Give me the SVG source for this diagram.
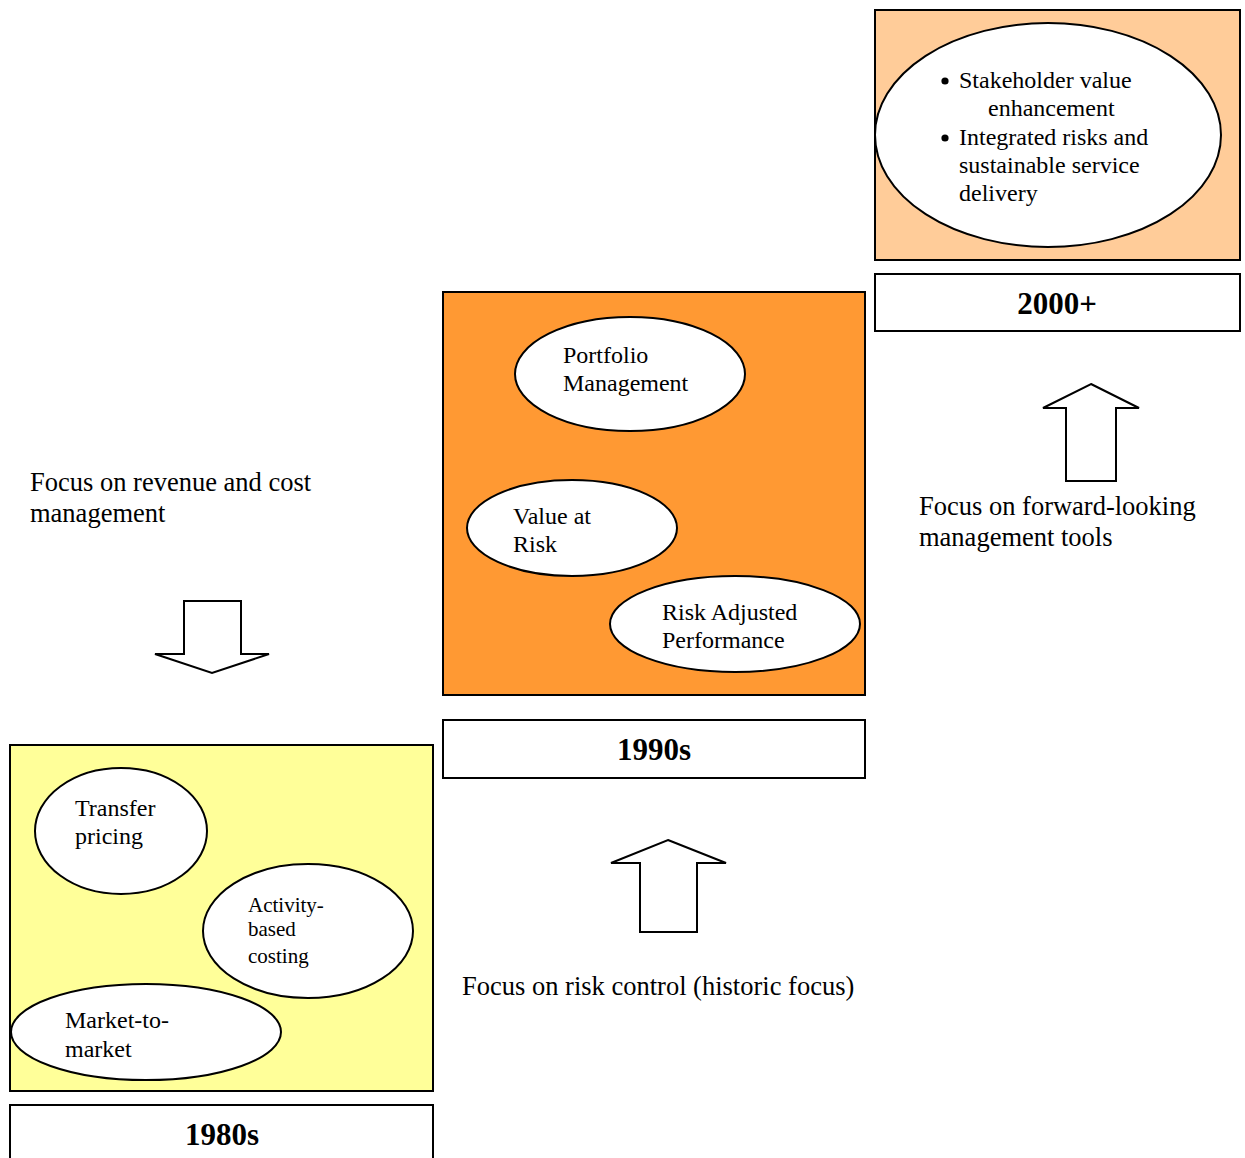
<svg xmlns="http://www.w3.org/2000/svg" width="1245" height="1158" viewBox="0 0 1245 1158">
  <style>
    .panel { stroke: #000; stroke-width: 2; }
    .label-box { fill: #fff; stroke: #000; stroke-width: 2; }
    .bubble { fill: #fff; stroke: #000; stroke-width: 2; }
    .arrow { fill: #fff; stroke: #000; stroke-width: 2; stroke-linejoin: miter; }
    text { font-family: "Liberation Serif", "Times New Roman", serif; fill: #000; }
    .t24 { font-size: 24px; }
    .t21 { font-size: 21px; }
    .t26 { font-size: 26.5px; }
    .era { font-size: 31px; font-weight: bold; text-anchor: middle; }
  </style>

  <rect width="1245" height="1158" fill="#fff"/>

  <!-- 2000+ era -->
  <g id="era-2000">
    <rect class="panel" x="875" y="10" width="365" height="250" fill="#FFCC99"/>
    <ellipse class="bubble" cx="1048" cy="135" rx="173" ry="112"/>
    <circle cx="945" cy="81" r="3.6" fill="#000"/>
    <circle cx="945" cy="138" r="3.6" fill="#000"/>
    <text class="t24">
      <tspan x="959" y="88">Stakeholder value</tspan>
      <tspan x="988" y="116">enhancement</tspan>
      <tspan x="959" y="145">Integrated risks and</tspan>
      <tspan x="959" y="173">sustainable service</tspan>
      <tspan x="959" y="201">delivery</tspan>
    </text>
  </g>
  <g id="label-2000">
    <rect class="label-box" x="875" y="274" width="365" height="57"/>
    <text class="era" x="1057" y="314">2000+</text>
  </g>

  <!-- 1990s era -->
  <g id="era-1990">
    <rect class="panel" x="443" y="292" width="422" height="403" fill="#FF9933"/>
  </g>
  <g id="portfolio">
    <ellipse class="bubble" cx="630" cy="374" rx="115" ry="57"/>
    <text class="t24"><tspan x="563" y="363">Portfolio</tspan><tspan x="563" y="391">Management</tspan></text>
  </g>
  <g id="var">
    <ellipse class="bubble" cx="572" cy="528" rx="105" ry="48"/>
    <text class="t24"><tspan x="513" y="524">Value at</tspan><tspan x="513" y="552">Risk</tspan></text>
  </g>
  <g id="rap">
    <ellipse class="bubble" cx="735" cy="624" rx="125" ry="48"/>
    <text class="t24"><tspan x="662" y="620">Risk Adjusted</tspan><tspan x="662" y="648">Performance</tspan></text>
  </g>
  <g id="label-1990">
    <rect class="label-box" x="443" y="720" width="422" height="58"/>
    <text class="era" x="654" y="760">1990s</text>
  </g>

  <!-- 1980s era -->
  <g id="era-1980">
    <rect class="panel" x="10" y="745" width="423" height="346" fill="#FFFF99"/>
  </g>
  <g id="transfer">
    <ellipse class="bubble" cx="121" cy="831" rx="86" ry="63"/>
    <text class="t24"><tspan x="75" y="816">Transfer</tspan><tspan x="75" y="844">pricing</tspan></text>
  </g>
  <g id="abc">
    <ellipse class="bubble" cx="308" cy="931" rx="105" ry="67"/>
    <text class="t21"><tspan x="248" y="912">Activity-</tspan><tspan x="248" y="936">based</tspan><tspan x="248" y="963">costing</tspan></text>
  </g>
  <g id="mtm">
    <ellipse class="bubble" cx="146" cy="1032" rx="135" ry="48"/>
    <text class="t24"><tspan x="65" y="1028">Market-to-</tspan><tspan x="65" y="1057">market</tspan></text>
  </g>
  <g id="label-1980">
    <rect class="label-box" x="10" y="1105" width="423" height="60"/>
    <text class="era" x="222" y="1145">1980s</text>
  </g>

  <!-- Transition arrows between eras -->
  <g id="connectors">
    <polygon class="arrow" points="184,601 241,601 241,654 269,654 212,673 155,654 184,654"/>
    <polygon class="arrow" points="668,840 726,863 697,863 697,932 640,932 640,863 611,863"/>
    <polygon class="arrow" points="1091,384 1139,408 1116,408 1116,481 1066,481 1066,408 1043,408"/>
  </g>

  <!-- Focus captions -->
  <g id="focus-1980">
    <text class="t26"><tspan x="30" y="491">Focus on revenue and cost</tspan><tspan x="30" y="522">management</tspan></text>
  </g>
  <g id="focus-1990">
    <text class="t26" x="462" y="995">Focus on risk control (historic focus)</text>
  </g>
  <g id="focus-2000">
    <text class="t26"><tspan x="919" y="515">Focus on forward-looking</tspan><tspan x="919" y="546">management tools</tspan></text>
  </g>
</svg>
